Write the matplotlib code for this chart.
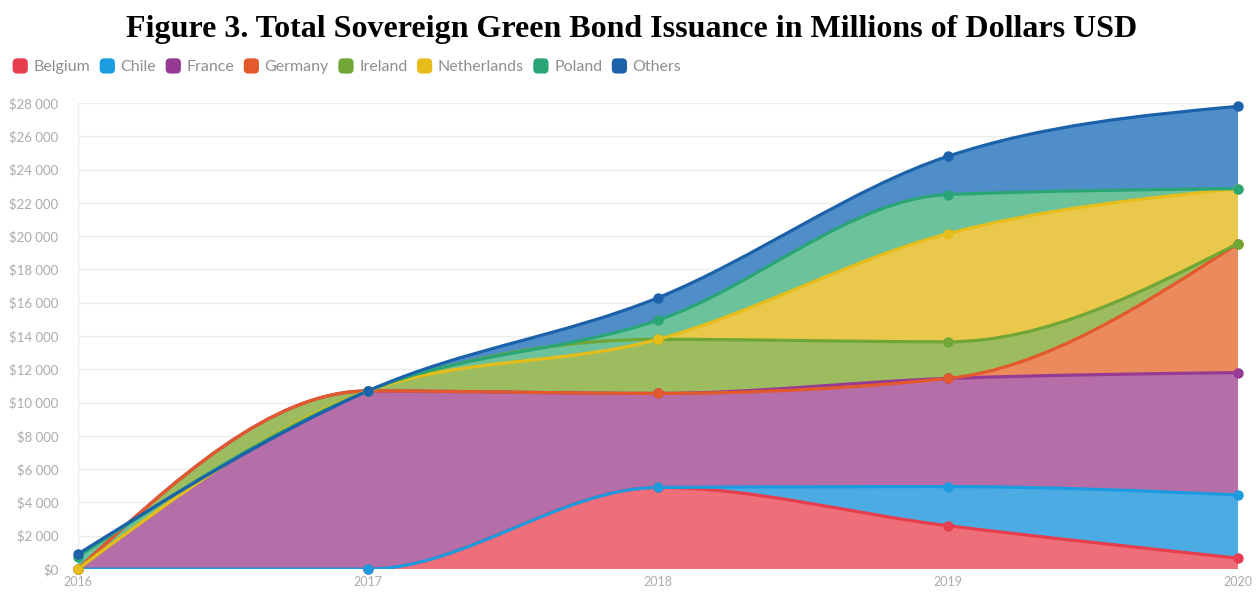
import numpy as np
import matplotlib
matplotlib.use("Agg")
import matplotlib.pyplot as plt
from matplotlib.path import Path
from matplotlib.patches import PathPatch, FancyBboxPatch, Patch
from matplotlib.legend_handler import HandlerPatch

# data (millions USD)
years = [2016, 2017, 2018, 2019, 2020]
countries = ["Belgium", "Chile", "France", "Germany", "Ireland", "Netherlands", "Poland", "Others"]
belgium = [0, 0, 4900, 2600, 650]
chile = [0, 0, 0, 2350, 3800]
france = [0, 10700, 5650, 6500, 7350]
germany = [0, 0, 0, 0, 7750]
ireland = [0, 0, 3250, 2200, 0]
netherlands = [0, 0, 0, 6500, 3300]
poland = [750, 0, 1150, 2350, 0]
others = [150, 0, 1350, 2300, 4950]
series = [belgium, chile, france, germany, ireland, netherlands, poland, others]

line_colors = ["#e63e4c", "#1d9be0", "#963a93", "#e3592c", "#6fa636", "#e7bd1c", "#2aa676", "#1c62aa"]
fill_colors = ["#ee6f79", "#4dabe4", "#b56ea8", "#eb8a5d", "#9dbc5f", "#e9c84b", "#6cc29a", "#4f8ec8"]
ytick_vals = list(range(0, 28001, 2000))


def tangents(x, y):
    # monotone cubic tangents (same idea as d3 curveMonotoneX)
    x = np.asarray(x, float)
    y = np.asarray(y, float)
    h = np.diff(x)
    s = np.diff(y) / h
    m = np.zeros(len(x))
    for i in range(1, len(x) - 1):
        if s[i - 1] * s[i] > 0:
            p = (s[i - 1] * h[i] + s[i] * h[i - 1]) / (h[i - 1] + h[i])
            m[i] = (np.sign(s[i - 1]) + np.sign(s[i])) * min(abs(s[i - 1]), abs(s[i]), 0.5 * abs(p))
    m[0] = (3 * s[0] - m[1]) / 2
    m[-1] = (3 * s[-1] - m[-2]) / 2
    return m


def bezier_segments(x, y):
    m = tangents(x, y)
    segs = []
    for i in range(len(x) - 1):
        h = x[i + 1] - x[i]
        c1 = (x[i] + h / 3, y[i] + m[i] * h / 3)
        c2 = (x[i + 1] - h / 3, y[i + 1] - m[i + 1] * h / 3)
        segs.append(((x[i], y[i]), c1, c2, (x[i + 1], y[i + 1])))
    return segs


def line_path(x, y):
    segs = bezier_segments(x, y)
    verts = [segs[0][0]]
    codes = [Path.MOVETO]
    for p0, c1, c2, p1 in segs:
        verts += [c1, c2, p1]
        codes += [Path.CURVE4] * 3
    return Path(verts, codes)


def band_path(x, top, bottom):
    up = bezier_segments(x, top)
    lo = bezier_segments(x, bottom)
    verts = [up[0][0]]
    codes = [Path.MOVETO]
    for p0, c1, c2, p1 in up:
        verts += [c1, c2, p1]
        codes += [Path.CURVE4] * 3
    verts.append(lo[-1][3])
    codes.append(Path.LINETO)
    for p0, c1, c2, p1 in reversed(lo):
        verts += [c2, c1, p0]
        codes += [Path.CURVE4] * 3
    verts.append(up[0][0])
    codes.append(Path.CLOSEPOLY)
    return Path(verts, codes)


def rounded_square(legend, orig_handle, xdescent, ydescent, width, height, fontsize):
    side = height * 1.15
    return FancyBboxPatch((width - side - xdescent, -ydescent + (height - side) / 2), side, side,
                          boxstyle="round,pad=0,rounding_size=%f" % (side * 0.3))


plt.rcParams['font.family'] = ['Lato', 'DejaVu Sans']

fig = plt.figure(figsize=(12.58, 5.92), dpi=100)
ax = fig.add_axes([78 / 1258, 23 / 592, 1160 / 1258, 466 / 592])

x = np.array(years, float)
cum = np.cumsum(np.array(series, float), axis=0)
prev = np.zeros(len(years))

for i, name in enumerate(countries):
    top = cum[i]
    ax.add_patch(PathPatch(band_path(x, top, prev), facecolor=fill_colors[i], edgecolor="none", zorder=2))
    prev = top

for i, name in enumerate(countries):
    ax.add_patch(PathPatch(line_path(x, cum[i]), facecolor="none", edgecolor=line_colors[i],
                           linewidth=2.3, capstyle="round", joinstyle="round", zorder=3 + i * 0.1))
    ax.plot(x, cum[i], "o", color=line_colors[i], markersize=6.5, clip_on=False, zorder=4 + i * 0.1)

ax.set_xlim(2016, 2020)
ax.set_ylim(0, 28000)
ax.set_xticks(years)
ax.set_xticklabels([str(y) for y in years])
ax.set_yticks(ytick_vals)
ax.set_yticklabels(["$" + format(v, ",").replace(",", " ") for v in ytick_vals])
ax.tick_params(axis="both", length=0, labelsize=9.5, labelcolor="#ababab")
ax.tick_params(axis="y", pad=14)
ax.tick_params(axis="x", pad=5, labelsize=9)
ax.grid(axis="y", color="#ececec", linewidth=1, zorder=0)
ax.axvline(2016, color="#ececec", linewidth=1, zorder=0)
for sp in ax.spines.values():
    sp.set_visible(False)

fig.text(0.502, 0.951, "Figure 3. Total Sovereign Green Bond Issuance in Millions of Dollars USD",
         ha="center", va="center", fontsize=23, fontweight="bold", family="Liberation Serif")

handles = [Patch(facecolor=c, edgecolor="none") for c in line_colors]
fig.legend(handles, countries, loc="center left", bbox_to_anchor=(-0.002, 0.887), ncol=8,
           frameon=False, fontsize=11.5, labelcolor="#8f8f8f", handletextpad=0.35,
           columnspacing=0.55, handlelength=1.0, handleheight=0.9,
           handler_map={Patch: HandlerPatch(patch_func=rounded_square)})

fig.savefig("out.png", dpi=100)
